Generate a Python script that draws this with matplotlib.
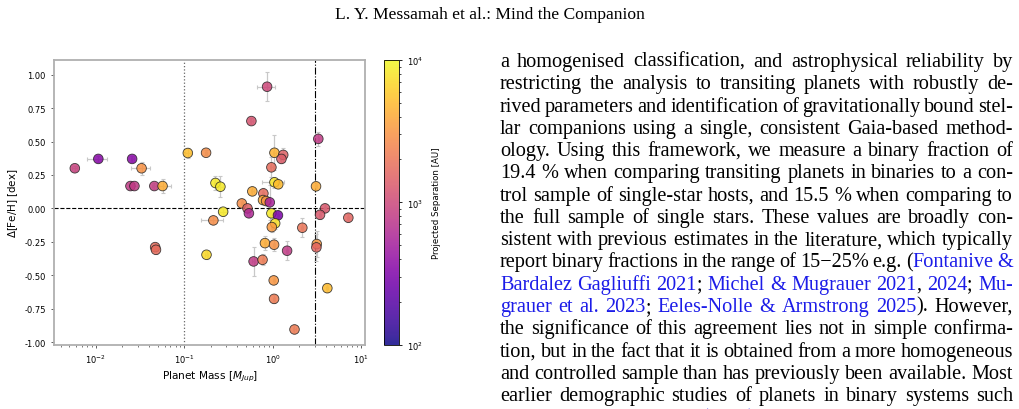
import matplotlib.pyplot as plt
import matplotlib.colors as mcolors

# planet mass [Mjup], Delta[Fe/H] [dex], projected separation [AU]
mass = [0.0058, 0.0107, 0.0258, 0.033, 0.0247, 0.0274, 0.046, 0.057, 0.110,
        0.047, 0.048, 0.867, 0.576, 0.177, 1.05, 1.32, 1.26, 3.29, 0.97,
        0.226, 0.257, 1.05, 1.16, 3.1, 0.59, 0.787, 0.78, 0.845, 0.93,
        0.449, 0.52, 0.54, 0.276, 0.97, 1.15, 3.92, 3.44, 7.19, 0.214,
        1.07, 0.98, 2.17, 0.82, 1.04, 1.46, 3.16, 3.13, 0.179, 0.61, 0.77,
        1.03, 4.16, 1.04, 1.77]
mass_err = [0.0004, 0.0028, 0.001, 0.008, 0.001, 0.002, 0.002, 0.014, 0.008,
            0.002, 0.002, 0.2, 0.02, 0.005, 0.03, 0.04, 0.04, 0.05, 0.03,
            0.01, 0.015, 0.3, 0.04, 0.05, 0.02, 0.02, 0.02, 0.03, 0.03,
            0.01, 0.03, 0.02, 0.03, 0.03, 0.03, 0.1, 0.1, 0.2, 0.06,
            0.03, 0.03, 0.05, 0.02, 0.03, 0.04, 0.05, 0.05, 0.005, 0.02, 0.02,
            0.03, 0.1, 0.03, 0.05]
feh = [0.30, 0.37, 0.37, 0.30, 0.167, 0.167, 0.167, 0.167, 0.414,
       -0.29, -0.31, 0.91, 0.653, 0.416, 0.416, 0.40, 0.37, 0.52, 0.307,
       0.19, 0.162, 0.195, 0.18, 0.165, 0.127, 0.112, 0.062, 0.055, 0.045,
       0.037, 0.0, -0.037, -0.025, -0.037, -0.052, 0.0, -0.048, -0.07, -0.09,
       -0.112, -0.14, -0.145, -0.26, -0.272, -0.317, -0.267, -0.292, -0.347,
       -0.397, -0.385, -0.539, -0.597, -0.677, -0.906]
feh_err = [0.02, 0.02, 0.02, 0.05, 0.02, 0.02, 0.02, 0.05, 0.04,
           0.03, 0.03, 0.11, 0.02, 0.02, 0.13, 0.05, 0.03, 0.05, 0.075,
           0.05, 0.08, 0.04, 0.03, 0.03, 0.03, 0.04, 0.03, 0.03, 0.13,
           0.03, 0.03, 0.03, 0.03, 0.03, 0.03, 0.03, 0.03, 0.03, 0.03,
           0.04, 0.04, 0.07, 0.05, 0.05, 0.07, 0.1, 0.1, 0.03,
           0.11, 0.04, 0.03, 0.03, 0.03, 0.03]
sep = [900, 350, 360, 3000, 800, 800, 850, 4200, 5200,
       1800, 1800, 1000, 1200, 2800, 4500, 1500, 1400, 800, 1800,
       8500, 8500, 8000, 5000, 4200, 4200, 1800, 4200, 3000, 550,
       2800, 1500, 600, 8500, 8500, 300, 1300, 1300, 1600, 2800,
       7500, 3300, 2000, 4200, 3000, 800, 3300, 1600, 7000,
       800, 2200, 3200, 5000, 2200, 2200]

header = "L. Y. Messamah et al.: Mind the Companion"
# {...} marks citation links (blue)
body = [
    "a homogenised classification, and astrophysical reliability by",
    "restricting the analysis to transiting planets with robustly de-",
    "rived parameters and identification of gravitationally bound stel-",
    "lar companions using a single, consistent Gaia-based method-",
    "ology. Using this framework, we measure a binary fraction of",
    "19.4 % when comparing transiting planets in binaries to a con-",
    "trol sample of single-star hosts, and 15.5 % when comparing to",
    "the full sample of single stars. These values are broadly con-",
    "sistent with previous estimates in the literature, which typically",
    "report binary fractions in the range of 15\u221225% e.g. ({Fontanive &}",
    "{Bardalez Gagliuffi 2021}; {Michel & Mugrauer 2021}, {2024}; {Mu-}",
    "{grauer et al. 2023}; {Eeles-Nolle & Armstrong 2025}). However,",
    "the significance of this agreement lies not in simple confirma-",
    "tion, but in the fact that it is obtained from a more homogeneous",
    "and controlled sample than has previously been available. Most",
    "earlier demographic studies of planets in binary systems such",
    "as {Thebault & Bonavita (2025)} rely on heterogeneous samples",
]

W, H = 1020, 410
fig = plt.figure(figsize=(W / 100, H / 100), dpi=100)

ax = fig.add_axes([54.3 / W, 1 - 345.7 / H, 310.7 / W, 284.7 / H])
cax = fig.add_axes([384.3 / W, 1 - 345.7 / H, 14.7 / W, 284.7 / H])

norm = mcolors.LogNorm(vmin=1e2, vmax=1e4)

ax.errorbar(mass, feh, xerr=mass_err, yerr=feh_err, fmt="none",
            ecolor="#c8c8c8", elinewidth=0.9, capsize=1.5, capthick=0.8, zorder=2)
sc = ax.scatter(mass, feh, c=sep, cmap="plasma", norm=norm, s=48, alpha=0.85,
                edgecolors="#222222", linewidths=0.6, zorder=3)

ax.axhline(0, color="black", ls="--", lw=0.8, zorder=1)
ax.axvline(0.1, color="#666666", ls=":", lw=0.9, zorder=1)
ax.axvline(3, color="black", ls="-.", lw=0.8, zorder=1)

ax.set_xscale("log")
ax.set_xlim(0.0034, 11.1)
ax.set_ylim(-1.02, 1.11)
ax.set_yticks([-1.0, -0.75, -0.5, -0.25, 0.0, 0.25, 0.5, 0.75, 1.0])
ax.yaxis.set_major_formatter(plt.FormatStrFormatter("%.2f"))
ax.tick_params(labelsize=6.0, length=2.5, width=0.6, color="#444444")
ax.tick_params(which="minor", length=1.5, width=0.5, color="#444444")
for s in ax.spines.values():
    s.set_color("#b0b0b0")
    s.set_linewidth(1.3)
ax.set_xlabel(r"Planet Mass [$M_{Jup}$]", fontsize=7.6, labelpad=2)
ax.set_ylabel(r"$\Delta$[Fe/H] [dex]", fontsize=7.4, labelpad=3)

cb = fig.colorbar(sc, cax=cax)
cb.outline.set_linewidth(0.6)
cb.ax.tick_params(labelsize=6.0, length=2.5, width=0.6)
cb.ax.tick_params(which="minor", length=1.5, width=0.5)
cb.set_label("Projected Separation [AU]", fontsize=6.2, labelpad=6)

# page text
serif = "Liberation Serif"
blue = "#1c1ce8"
fig.text(490 / W, 1 - 19 / H, header, fontsize=12.6, family=serif,
         ha="center", va="baseline")

renderer = fig.canvas.get_renderer()
x0, x1 = 500, 1013
for i, line in enumerate(body):
    words = []
    link = False
    cur = []
    chunk = ""
    for ch in line + " ":
        if ch in "{}":
            if chunk:
                cur.append((chunk, blue if link else "black"))
            chunk = ""
            link = ch == "{"
        elif ch == " ":
            if chunk:
                cur.append((chunk, blue if link else "black"))
            chunk = ""
            if cur:
                words.append(cur)
            cur = []
        else:
            chunk += ch
    yb = 1 - (67 + 22.27 * i) / H
    placed = []
    total = 0
    for w in words:
        parts = []
        wwidth = 0
        for txt, col in w:
            t = fig.text(0, yb, txt, fontsize=14.6, family=serif, color=col,
                         va="baseline")
            cw = t.get_window_extent(renderer).width
            parts.append((t, cw))
            wwidth += cw
        placed.append(parts)
        total += wwidth
    gap = max((x1 - x0 - total) / (len(words) - 1), 2.0)
    x = x0
    for parts in placed:
        for t, cw in parts:
            t.set_x(x / W)
            x += cw
        x += gap

fig.savefig("out.png", dpi=100)
